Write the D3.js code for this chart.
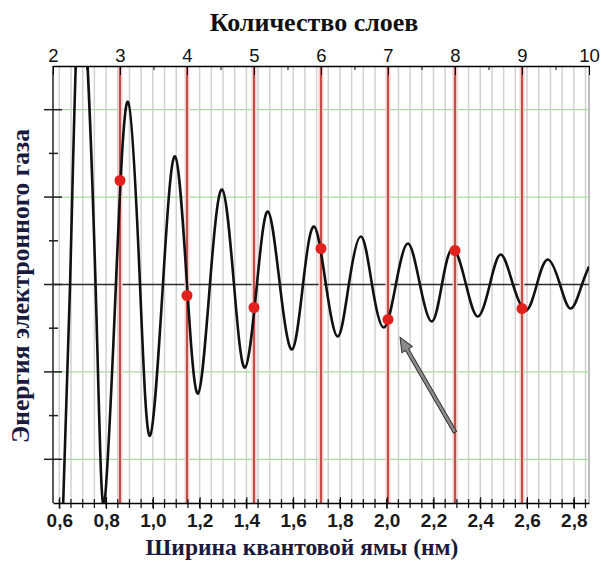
<!DOCTYPE html>
<html>
<head>
<meta charset="utf-8">
<script src="https://cdn.jsdelivr.net/npm/d3@7"></script>
<style>
  body { margin: 0; background: #fff; }
  svg { display: block; }
</style>
</head>
<body>
<svg id="chart" width="604" height="562" viewBox="0 0 604 562"></svg>
<script>
// top axis: number of layers
const layerTicks = [2, 3, 4, 5, 6, 7, 8, 9, 10];
const layerHalfTicks = [2.5, 3.5, 4.5, 5.5, 6.5, 7.5, 8.5, 9.5];
const redLayers = [3, 4, 5, 6, 7, 8, 9];

// bottom axis: well width, nm
const widthTicks = [0.6, 0.8, 1.0, 1.2, 1.4, 1.6, 1.8, 2.0, 2.2, 2.4, 2.6, 2.8];

// oscillating energy curve (extrema and zero crossings)
const curveX = [0.593, 0.646, 0.693, 0.755, 0.791, 0.842, 0.894, 0.945, 0.988, 1.043,
  1.095, 1.146, 1.193, 1.244, 1.296, 1.347, 1.394, 1.445, 1.492, 1.543,
  1.595, 1.642, 1.689, 1.740, 1.791, 1.838, 1.890, 1.937, 1.988, 2.039,
  2.091, 2.142, 2.193, 2.236, 2.283, 2.339, 2.390, 2.441, 2.488, 2.540,
  2.595, 2.642, 2.689, 2.741, 2.788, 2.835, 2.865];
const curveY = [-4.5, 0, 3.4, 0, -2.52, 0, 2.09, 0, -1.73, 0,
  1.465, 0, -1.247, 0, 1.087, 0, -0.95, 0, 0.835, 0,
  -0.744, 0, 0.664, 0, -0.595, 0, 0.549, 0, -0.492, 0,
  0.469, 0, -0.423, 0, 0.412, 0, -0.366, 0, 0.343, 0,
  -0.297, 0, 0.286, 0, -0.275, 0, 0.206];

// red dots at integer layer counts
const dotEnergy = [1.19, -0.126, -0.263, 0.412, -0.40, 0.389, -0.275];

// arrow annotation (nm, energy): tail -> head
const arrowFrom = [2.292, -1.69];
const arrowTo = [2.057, -0.606];

const svg = d3.select("#chart");
const pLeft = 53, pRight = 589, pTop = 66, pBottom = 503;

const xW = d3.scaleLinear().domain([0.573, 2.865]).range([pLeft, pRight]);
const xL = d3.scaleLinear().domain([2, 10]).range([pLeft, pRight]);
const y = d3.scaleLinear().domain([-2.5, 2.5]).range([pBottom, pTop]);

svg.append("defs").append("clipPath").attr("id", "plot")
  .append("rect").attr("x", pLeft).attr("y", pTop)
  .attr("width", pRight - pLeft).attr("height", pBottom - pTop);

// gray vertical grid every 0.05 nm
const gridX = d3.range(0.6, 2.86, 0.05);
svg.append("g").selectAll("line").data(gridX).enter().append("line")
  .attr("x1", d => xW(d)).attr("x2", d => xW(d))
  .attr("y1", pTop).attr("y2", pBottom)
  .attr("stroke", "#d2d2d2").attr("stroke-width", 1.5);

// right border
svg.append("line").attr("x1", pRight).attr("x2", pRight)
  .attr("y1", pTop).attr("y2", pBottom)
  .attr("stroke", "#a8a8a8").attr("stroke-width", 1.5);

// green horizontal grid
svg.append("g").selectAll("line").data([-2, -1, 1, 2]).enter().append("line")
  .attr("x1", pLeft).attr("x2", pRight)
  .attr("y1", d => y(d)).attr("y2", d => y(d))
  .attr("stroke", "#a9dca0").attr("stroke-width", 1.2);

// zero line
svg.append("line").attr("x1", pLeft).attr("x2", pRight)
  .attr("y1", y(0)).attr("y2", y(0))
  .attr("stroke", "#2b2b2b").attr("stroke-width", 1.5);

// red layer lines
const red_g = svg.append("g");
red_g.selectAll("line.halo").data(redLayers).enter().append("line")
  .attr("class", "halo")
  .attr("x1", d => xL(d)).attr("x2", d => xL(d))
  .attr("y1", pTop).attr("y2", pBottom)
  .attr("stroke", "#f2cdca").attr("stroke-width", 5);
red_g.selectAll("line.core").data(redLayers).enter().append("line")
  .attr("class", "core")
  .attr("x1", d => xL(d)).attr("x2", d => xL(d))
  .attr("y1", pTop).attr("y2", pBottom)
  .attr("stroke", "#c0403a").attr("stroke-width", 1.8);

// curve
const pts = curveX.map((d, i) => [d, curveY[i]]);
const line = d3.line()
  .x(d => xW(d[0])).y(d => y(d[1]))
  .curve(d3.curveNatural);
svg.append("path").datum(pts)
  .attr("clip-path", "url(#plot)")
  .attr("d", line)
  .attr("fill", "none").attr("stroke", "#111").attr("stroke-width", 2.6)
  .attr("stroke-linejoin", "round");

// red dots
svg.append("g").selectAll("circle").data(redLayers).enter().append("circle")
  .attr("cx", d => xL(d))
  .attr("cy", (d, i) => y(dotEnergy[i]))
  .attr("r", 5.5)
  .attr("fill", "#e3211c");

// arrow
{
  const x1 = xW(arrowFrom[0]), y1 = y(arrowFrom[1]);
  const x2 = xW(arrowTo[0]), y2 = y(arrowTo[1]);
  const ang = Math.atan2(y2 - y1, x2 - x1);
  const len = Math.hypot(x2 - x1, y2 - y1);
  const hl = 14, hw = 6, sw = 1.8;
  const shape = [[0, -sw], [len - hl, -sw], [len - hl, -hw], [len, 0],
    [len - hl, hw], [len - hl, sw], [0, sw]];
  svg.append("path")
    .attr("d", "M" + shape.map(p => p.join(",")).join("L") + "Z")
    .attr("transform", `translate(${x1},${y1}) rotate(${ang * 180 / Math.PI})`)
    .attr("fill", "#8c8c8c").attr("stroke", "#333").attr("stroke-width", 1);
}

// left axis
svg.append("line").attr("x1", pLeft).attr("x2", pLeft)
  .attr("y1", pTop).attr("y2", pBottom)
  .attr("stroke", "#222").attr("stroke-width", 1.5);
svg.append("g").selectAll("line").data([-2, -1, 0, 1, 2]).enter().append("line")
  .attr("x1", pLeft - 9).attr("x2", pLeft + 9)
  .attr("y1", d => y(d)).attr("y2", d => y(d))
  .attr("stroke", "#222").attr("stroke-width", 1.5);
svg.append("g").selectAll("line").data([-1.5, -0.5, 0.5, 1.5]).enter().append("line")
  .attr("x1", pLeft - 4).attr("x2", pLeft + 5)
  .attr("y1", d => y(d)).attr("y2", d => y(d))
  .attr("stroke", "#222").attr("stroke-width", 1.5);

// top axis
const topAxis = svg.append("g").attr("transform", `translate(0,${pTop})`)
  .call(d3.axisTop(xL).tickValues(layerTicks).tickSizeInner(-9).tickSizeOuter(0).tickPadding(4));
svg.append("g").attr("transform", `translate(0,${pTop})`)
  .call(d3.axisTop(xL).tickValues(layerHalfTicks).tickSizeInner(-4).tickSizeOuter(0).tickFormat(""))
  .select(".domain").remove();
topAxis.selectAll("text")
  .attr("font-family", "'Liberation Sans', Arial, sans-serif")
  .attr("font-size", 18.5).attr("fill", "#111");

// bottom axis
const minorW = d3.range(0.6, 2.86, 0.05);
svg.append("g").selectAll("line").data(minorW).enter().append("line")
  .attr("x1", d => xW(d)).attr("x2", d => xW(d))
  .attr("y1", pBottom - 4).attr("y2", pBottom + 5)
  .attr("stroke", "#222").attr("stroke-width", 1.3);
const botAxis = svg.append("g").attr("transform", `translate(0,${pBottom})`)
  .call(d3.axisBottom(xW).tickValues(widthTicks).tickSizeInner(6).tickSizeOuter(0).tickPadding(5)
    .tickFormat(d => d3.format(".1f")(d).replace(".", ",")));
botAxis.selectAll(".tick line").attr("y1", -6);
botAxis.select(".domain").attr("stroke-width", 1.5);
topAxis.select(".domain").attr("stroke-width", 1.5);
botAxis.selectAll("text")
  .attr("font-family", "'Liberation Sans', Arial, sans-serif")
  .attr("font-weight", "bold")
  .attr("font-size", 19).attr("fill", "#1a1a1a");

// titles
svg.append("text").attr("x", 314).attr("y", 31)
  .attr("text-anchor", "middle")
  .attr("font-family", "'Liberation Serif', 'Times New Roman', serif")
  .attr("font-weight", "bold").attr("font-size", 26).attr("fill", "#111")
  .text("Количество слоев");

svg.append("text").attr("x", 302).attr("y", 555)
  .attr("text-anchor", "middle")
  .attr("font-family", "'Liberation Serif', 'Times New Roman', serif")
  .attr("font-weight", "bold").attr("font-size", 23.5).attr("fill", "#1a1a40")
  .text("Ширина квантовой ямы (нм)");

svg.append("text")
  .attr("transform", "translate(29,286) rotate(-90)")
  .attr("text-anchor", "middle")
  .attr("font-family", "'Liberation Serif', 'Times New Roman', serif")
  .attr("font-weight", "bold").attr("font-size", 25.5).attr("fill", "#1a1a40")
  .text("Энергия электронного газа");
</script>
</body>
</html>
